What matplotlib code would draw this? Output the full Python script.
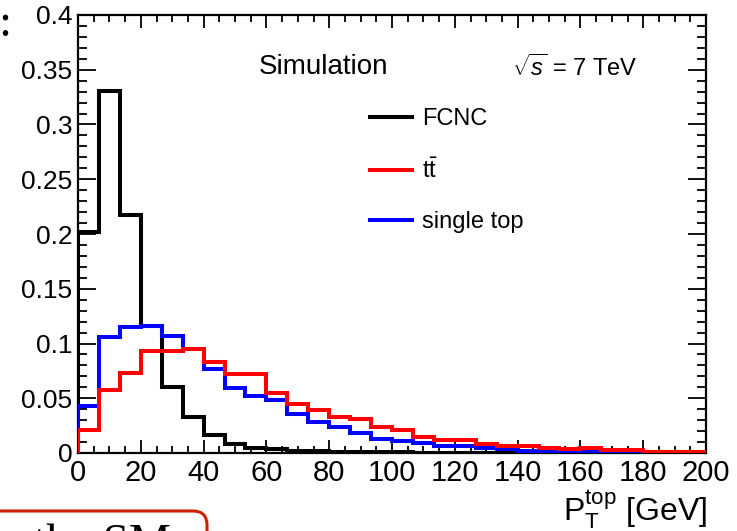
import matplotlib
matplotlib.use("Agg")
import matplotlib.pyplot as plt
import numpy as np
from matplotlib.patches import FancyBboxPatch
from matplotlib.ticker import MultipleLocator, FormatStrFormatter
from matplotlib.lines import Line2D

plt.rcParams["font.family"] = ["Liberation Sans", "DejaVu Sans"]
plt.rcParams["mathtext.fontset"] = "custom"
plt.rcParams["mathtext.rm"] = "Liberation Sans"
plt.rcParams["mathtext.it"] = "Liberation Sans:italic"

# 30 bins over 0-200 GeV
bin_edges = np.linspace(0, 200, 31)

fcnc = [0.202, 0.331, 0.217, 0.116, 0.060, 0.033, 0.016, 0.008, 0.005, 0.0037,
        0.002, 0.0015, 0.001, 0.0008, 0.0006, 0.0005, 0.0004, 0.0003, 0.0003, 0.0002,
        0.0002, 0.0001, 0.0001, 0.0001, 0.0001, 0.0001, 0.0, 0.0, 0.0, 0.0]
ttbar = [0.021, 0.0575, 0.0733, 0.0930, 0.0934, 0.095, 0.0828, 0.072, 0.072, 0.0545,
         0.0447, 0.0393, 0.0332, 0.031, 0.024, 0.021, 0.0145, 0.0122, 0.0120, 0.0082,
         0.0067, 0.0066, 0.0049, 0.0040, 0.0050, 0.0027, 0.0027, 0.0012, 0.0012, 0.0012]
single_top = [0.043, 0.106, 0.1155, 0.116, 0.107, 0.0947, 0.0764, 0.0597, 0.0523, 0.048,
              0.0353, 0.028, 0.024, 0.018, 0.013, 0.0107, 0.0088, 0.0066, 0.0066, 0.0043,
              0.0034, 0.002, 0.0016, 0.0012, 0.002, 0.0006, 0.0005, 0.0004, 0.0003, 0.0003]

series = [("FCNC", fcnc, "black"),
          (r"t$\mathrm{\bar{t}}$", ttbar, "#ff0000"),
          ("single top", single_top, "#0000ff")]

W, H = 737, 531
fig = plt.figure(figsize=(W / 100, H / 100), dpi=100)
ax = fig.add_axes([78 / W, 1 - 453 / H, (706 - 78) / W, (453 - 15) / H])

for z, (name, vals, col) in zip([3, 5, 4], series):
    ax.stairs(vals, bin_edges, color=col, linewidth=2.9, zorder=z)

ax.set_xlim(0, 200)
ax.set_ylim(0, 0.4)
ax.xaxis.set_major_locator(MultipleLocator(20))
ax.xaxis.set_minor_locator(MultipleLocator(5))
ax.yaxis.set_major_locator(MultipleLocator(0.05))
ax.yaxis.set_minor_locator(MultipleLocator(0.01))
ax.yaxis.set_major_formatter(FormatStrFormatter("%g"))
ax.tick_params(which="both", direction="in", top=True, right=True, width=1.3,
               colors="black")
ax.tick_params(axis="x", which="major", length=9.5, pad=4, labelsize=21)
ax.tick_params(axis="x", which="minor", length=5)
ax.tick_params(axis="y", which="major", length=13, pad=4, labelsize=19)
ax.tick_params(axis="y", which="minor", length=6.5)
for sp in ax.spines.values():
    sp.set_linewidth(1.6)

handles = [Line2D([], [], color=c, linewidth=2.9) for _, _, c in series]
ax.legend(handles, [s[0] for s in series], loc="upper left",
          bbox_to_anchor=(349 / W, 1 - 87 / H), bbox_transform=fig.transFigure,
          frameon=False, fontsize=17, handlelength=1.75, handletextpad=0.45,
          labelspacing=1.2)


def px(x, y):
    return x / W, 1 - y / H


fig.text(*px(259, 67), "Simulation", fontsize=20, ha="left", va="center")
fig.text(*px(512, 68), r"$\sqrt{s}$ = 7 TeV", fontsize=17, ha="left", va="center")
fig.text(*px(707, 510), r"$\mathrm{P}_{\mathrm{T}}^{\mathrm{top}}$ [GeV]",
         fontsize=23, ha="right", va="center")

# fragments of the surrounding slide
box = FancyBboxPatch((-0.3, (H - 640) / 100), 2.37, 1.29,
                     boxstyle="round,pad=0,rounding_size=0.14",
                     transform=fig.dpi_scale_trans, facecolor="none",
                     edgecolor="#cc2200", linewidth=2.2)
fig.patches.append(box)
fig.text(0.33, (H - 556) / 100, "the SM", fontsize=34, family="Liberation Serif",
         transform=fig.dpi_scale_trans, ha="left", va="baseline")
fig.text(0.05, (H - 36) / 100, ":", fontsize=34, family="Liberation Serif",
         transform=fig.dpi_scale_trans, ha="center", va="baseline")

fig.savefig("out.png", dpi=100)
